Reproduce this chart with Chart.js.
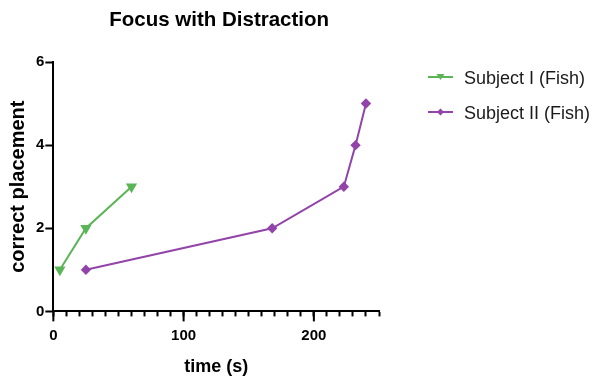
<!DOCTYPE html>
<html>
<head>
<meta charset="utf-8">
<script src="https://cdn.jsdelivr.net/npm/chart.js@4.4.1/dist/chart.umd.min.js"></script>
<style>
  html, body { margin: 0; padding: 0; background: #fff; }
  #wrap { width: 592px; height: 378px; }
</style>
</head>
<body>
<div id="wrap"><canvas id="focus_chart" width="592" height="378"></canvas></div>
<script>
/*数据*/
var fishOneTime = [5, 25, 60];
var fishOneScore = [1, 2, 3];
var fishTwoTime = [25, 168, 223, 232, 240];
var fishTwoScore = [1, 2, 3, 4, 5];
var seriesNames = ['Subject I (Fish)', 'Subject II (Fish)'];
var xMajorTicks = [0, 100, 200];
var yTickLabels = [0, 2, 4, 6];
var chartTitle = 'Focus with Distraction';

var greenColor = '#5bb556';
var purpleColor = '#9244a9';
var fontFam = '"Liberation Sans", Arial, Helvetica, sans-serif';

function toPoints(xs, ys) {
    var pts = [];
    for (var i = 0; i < xs.length; i++) {
        pts.push({x: xs[i], y: ys[i]});
    }
    return pts;
}

/*标题、图例、主刻度*/
var decorPlugin = {
    id: 'decor',
    afterDraw: function(chart) {
        var ctx = chart.ctx;
        var area = chart.chartArea;
        var xs = chart.scales.x;
        ctx.save();
        /*主刻度加长*/
        ctx.strokeStyle = '#000';
        ctx.lineWidth = 2;
        for (var i = 0; i < xMajorTicks.length; i++) {
            var px = xs.getPixelForValue(xMajorTicks[i]);
            ctx.beginPath();
            ctx.moveTo(px, xs.top);
            ctx.lineTo(px, xs.top + 10);
            ctx.stroke();
        }
        /*标题*/
        ctx.fillStyle = '#000';
        ctx.font = 'bold 20.5px ' + fontFam;
        ctx.textAlign = 'center';
        ctx.textBaseline = 'middle';
        ctx.fillText(chartTitle, (area.left + area.right) / 2 + 3, 20);
        /*图例*/
        var ds = chart.data.datasets;
        for (var j = 0; j < ds.length; j++) {
            var ly = 77 + j * 35;
            var col = ds[j].borderColor;
            ctx.strokeStyle = col;
            ctx.fillStyle = col;
            ctx.lineWidth = 2;
            ctx.beginPath();
            ctx.moveTo(428, ly);
            ctx.lineTo(453, ly);
            ctx.stroke();
            ctx.beginPath();
            if (j == 0) {
                ctx.moveTo(436.5, ly - 3);
                ctx.lineTo(444.5, ly - 3);
                ctx.lineTo(440.5, ly + 3);
            } else {
                ctx.moveTo(440.5, ly - 3.5);
                ctx.lineTo(444, ly);
                ctx.lineTo(440.5, ly + 3.5);
                ctx.lineTo(437, ly);
            }
            ctx.closePath();
            ctx.fill();
            ctx.fillStyle = '#1a1a1a';
            ctx.font = '18px ' + fontFam;
            ctx.textAlign = 'left';
            ctx.textBaseline = 'middle';
            ctx.fillText(ds[j].label, 464, ly + 2);
        }
        ctx.restore();
    }
};

var ctx = document.getElementById('focus_chart').getContext('2d');
var myChart = new Chart(ctx, {
    type: 'line',
    data: {
        datasets: [{
            label: seriesNames[0],
            data: toPoints(fishOneTime, fishOneScore),
            borderColor: greenColor,
            backgroundColor: greenColor,
            borderWidth: 2,
            pointStyle: 'triangle',
            rotation: 180,
            pointRadius: 4.5,
            pointHoverRadius: 4.5
        }, {
            label: seriesNames[1],
            data: toPoints(fishTwoTime, fishTwoScore),
            borderColor: purpleColor,
            backgroundColor: purpleColor,
            borderWidth: 2,
            pointStyle: 'rectRot',
            pointRadius: 3.8,
            pointHoverRadius: 3.8
        }]
    },
    options: {
        responsive: false,
        animation: false,
        layout: {
            padding: { left: 6, right: 213, top: 62, bottom: 0 }
        },
        plugins: {
            title: { display: false },
            legend: { display: false },
            tooltip: { enabled: false }
        },
        scales: {
            x: {
                type: 'linear',
                min: 0,
                max: 250,
                border: { color: '#000', width: 2 },
                grid: {
                    drawOnChartArea: false,
                    drawTicks: true,
                    tickLength: 5,
                    tickColor: '#000',
                    tickWidth: 2
                },
                ticks: {
                    stepSize: 10,
                    autoSkip: false,
                    maxRotation: 0,
                    color: '#000',
                    padding: 10,
                    font: { family: fontFam, size: 15, weight: 'bold' },
                    callback: function(v) {
                        return xMajorTicks.indexOf(v) >= 0 ? v : '';
                    }
                },
                title: {
                    display: true,
                    text: 'time (s)',
                    color: '#000',
                    font: { family: fontFam, size: 18, weight: 'bold' },
                    padding: { top: 2, bottom: 0 }
                }
            },
            y: {
                min: 0,
                max: 6,
                border: { color: '#000', width: 2 },
                grid: {
                    drawOnChartArea: false,
                    drawTicks: true,
                    tickLength: 8,
                    tickColor: '#000',
                    tickWidth: 2
                },
                ticks: {
                    stepSize: 2,
                    color: '#000',
                    padding: 1,
                    font: { family: fontFam, size: 15, weight: 'bold' },
                    callback: function(v) {
                        return yTickLabels.indexOf(v) >= 0 ? v : '';
                    }
                },
                title: {
                    display: true,
                    text: 'correct placement',
                    color: '#000',
                    font: { family: fontFam, size: 20, weight: 'bold' },
                    padding: { top: 0, bottom: 5 }
                }
            }
        }
    },
    plugins: [decorPlugin]
});
</script>
</body>
</html>
